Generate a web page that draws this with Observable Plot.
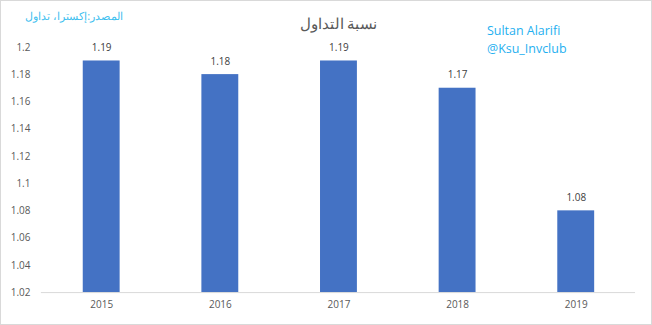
<!DOCTYPE html>
<html><head><meta charset="utf-8">
<script src="https://cdn.jsdelivr.net/npm/d3@7"></script>
<script src="https://cdn.jsdelivr.net/npm/@observablehq/plot@0.6"></script>
<style>
body{margin:0;background:#fff;}
#c{position:relative;width:650px;height:323px;border:1px solid #d9d9d9;}
#c svg{position:absolute;left:-1px;top:-1px;}
</style></head><body><div id="c"></div>
<script>
const years = ["2015","2016","2017","2018","2019"];
const values = [1.19, 1.18, 1.19, 1.17, 1.08];
const yTicks = [1.02,1.04,1.06,1.08,1.1,1.12,1.14,1.16,1.18,1.2];
const title = "نسبة التداول";
const source = "المصدر:إكسترا، تداول";
const credit1 = "Sultan Alarifi";
const credit2 = "@Ksu_Invclub";
const data = years.map((y,i)=>({year:y, value:values[i]}));
const font = "'Open Sans', 'Liberation Sans', sans-serif";
const chart = Plot.plot({
  width: 652, height: 325,
  marginTop: 47, marginBottom: 32, marginLeft: 41, marginRight: 15,
  style: {fontFamily: font, fontSize: "10px", color: "#595959", background: "transparent"},
  x: {domain: years, paddingInner: 0.69, paddingOuter: 0.345, label: null, tickSize: 0, tickPadding: 8},
  y: {domain: [1.02, 1.2], ticks: yTicks, tickFormat: d => d3.format("~g")(d), label: null, tickSize: 0, tickPadding: 11},
  marks: [
    Plot.barY(data, {x: "year", y1: 1.02, y2: "value", fill: "#4472C4"}),
    Plot.ruleY([1.02], {stroke: "#d9d9d9"}),
    Plot.text(data, {x: "year", y: "value", text: d => d3.format(".2f")(d.value), dy: -13, fill: "#404040", fontSize: 10}),
    Plot.text([title], {frameAnchor: "top", dy: -29, fontSize: 15, fill: "#595959", text: d => d}),
    Plot.text([source], {frameAnchor: "top-left", dx: -16, dy: -35, fontSize: 11, fill: "#3FBFEF", textAnchor: "start", text: d => d}),
    Plot.text([credit1], {frameAnchor: "top-left", dx: 447, dy: -16, fill: "#1FB0F0", fontSize: 12.5, textAnchor: "start", lineAnchor: "middle", text: d => d}),
    Plot.text([credit2], {frameAnchor: "top-left", dx: 447, dy: 2, fill: "#1FB0F0", fontSize: 12.5, textAnchor: "start", lineAnchor: "middle", text: d => d})
  ]
});
document.getElementById("c").appendChild(chart);
</script></body></html>
